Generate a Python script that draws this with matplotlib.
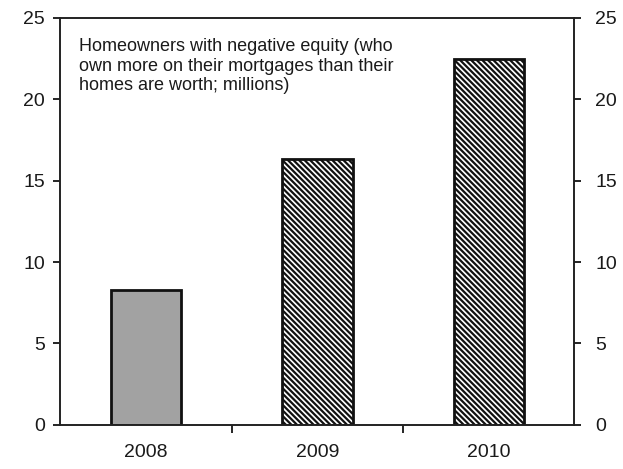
import matplotlib
matplotlib.use("Agg")
import matplotlib.pyplot as plt

plt.rcParams['font.family'] = ['Liberation Sans', 'DejaVu Sans']
plt.rcParams['hatch.linewidth'] = 1.6

years = ["2008", "2009", "2010"]
homeowners = [8.3, 16.3, 22.5]   # millions with negative equity
fills = ["#a2a2a2", "white", "white"]
hatches = [None, "\\\\\\\\\\\\", "\\\\\\\\\\\\"]

fig = plt.figure(figsize=(6.23, 4.69), dpi=100)
ax = fig.add_axes([0.097, 0.094, 0.825, 0.868])

x = range(len(years))
bars = ax.bar(x, homeowners, width=0.41, color=fills, edgecolor="#111111", linewidth=2.0)
for b, h in zip(bars, hatches):
    if h:
        b.set_hatch(h)

ax.set_xlim(-0.5, 2.5)
ax.set_ylim(0, 25)
ax.set_yticks([0, 5, 10, 15, 20, 25])
ax.set_xticks(list(x))
ax.set_xticklabels(years)
ax.set_xticks([0.5, 1.5], minor=True)
ax.tick_params(axis="x", which="major", length=0, pad=14, labelsize=14, labelcolor="#1a1a1a")
ax.tick_params(axis="x", which="minor", length=6, width=1.2, direction="out")
ax.tick_params(axis="y", length=5, width=1.2, direction="out", labelsize=14, pad=6,
               labelcolor="#1a1a1a")
for s in ax.spines.values():
    s.set_linewidth(1.2)
    s.set_color("#222222")

# second y axis on the right with the same scale
ax2 = ax.twinx()
ax2.set_ylim(0, 25)
ax2.set_yticks([0, 5, 10, 15, 20, 25])
ax2.tick_params(axis="y", length=5, width=1.2, direction="out", labelsize=14, pad=10,
                labelcolor="#1a1a1a")
for s in ax2.spines.values():
    s.set_linewidth(1.2)
    s.set_color("#222222")

ax.text(0.037, 0.95,
        "Homeowners with negative equity (who\nown more on their mortgages than their\nhomes are worth; millions)",
        transform=ax.transAxes, ha="left", va="top", fontsize=13, linespacing=1.2,
        color="#1a1a1a")

fig.savefig("out.png", dpi=100)
